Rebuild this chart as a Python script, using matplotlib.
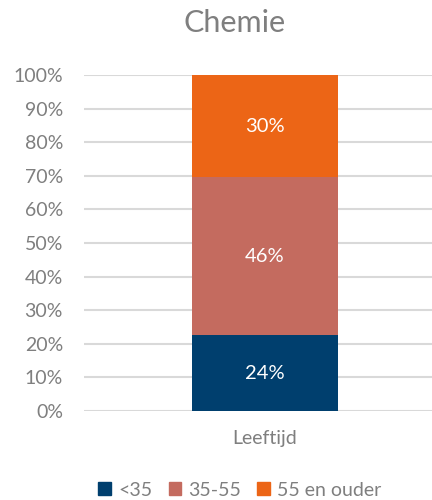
import matplotlib
matplotlib.use("Agg")
import matplotlib.pyplot as plt
from matplotlib.patches import Patch

plt.rcParams['font.family'] = ['Lato', 'DejaVu Sans']

# data
category = ['Leeftijd']
groups = ['<35', '35-55', '55 en ouder']
values = [22.6, 47.0, 30.4]          # bar heights as drawn
labels = ['24%', '46%', '30%']       # data labels as printed
colors = ['#003f6e', '#c46b5f', '#ec6516']

grey = '#7f7f7f'

fig = plt.figure(figsize=(4.32, 5.0), dpi=100)
ax = fig.add_axes([0.194, 0.178, 0.806, 0.672])

bottom = 0
for g, v, lab, c in zip(groups, values, labels, colors):
    ax.bar(0, v, width=0.42, bottom=bottom, color=c, label=g, zorder=3)
    ax.text(0, bottom + v / 2, lab, ha='center', va='center', color='white', fontsize=14.5, zorder=4)
    bottom += v

ax.set_xlim(-0.52, 0.48)
ax.set_ylim(0, 100)
ax.set_yticks(range(0, 101, 10))
ax.set_yticklabels([f'{t}%' for t in range(0, 101, 10)])
ax.set_xticks([0])
ax.set_xticklabels(category)
ax.tick_params(axis='both', length=0, colors=grey, labelsize=14)
ax.tick_params(axis='y', pad=15)
ax.tick_params(axis='x', pad=14)
ax.yaxis.grid(True, color='#d9d9d9', linewidth=1.5, zorder=0)
for s in ax.spines.values():
    s.set_visible(False)

fig.text(0.543, 0.953, 'Chemie', ha='center', va='center', fontsize=22, color=grey)

handles = [Patch(color=c, label=g) for g, c in zip(groups, colors)]
fig.legend(handles=handles, loc='center', bbox_to_anchor=(0.555, 0.02), ncol=3, frameon=False,
           fontsize=14, labelcolor=grey, handlelength=0.65, handleheight=0.65,
           handletextpad=0.35, columnspacing=0.85)

fig.savefig('out.png', dpi=100)
